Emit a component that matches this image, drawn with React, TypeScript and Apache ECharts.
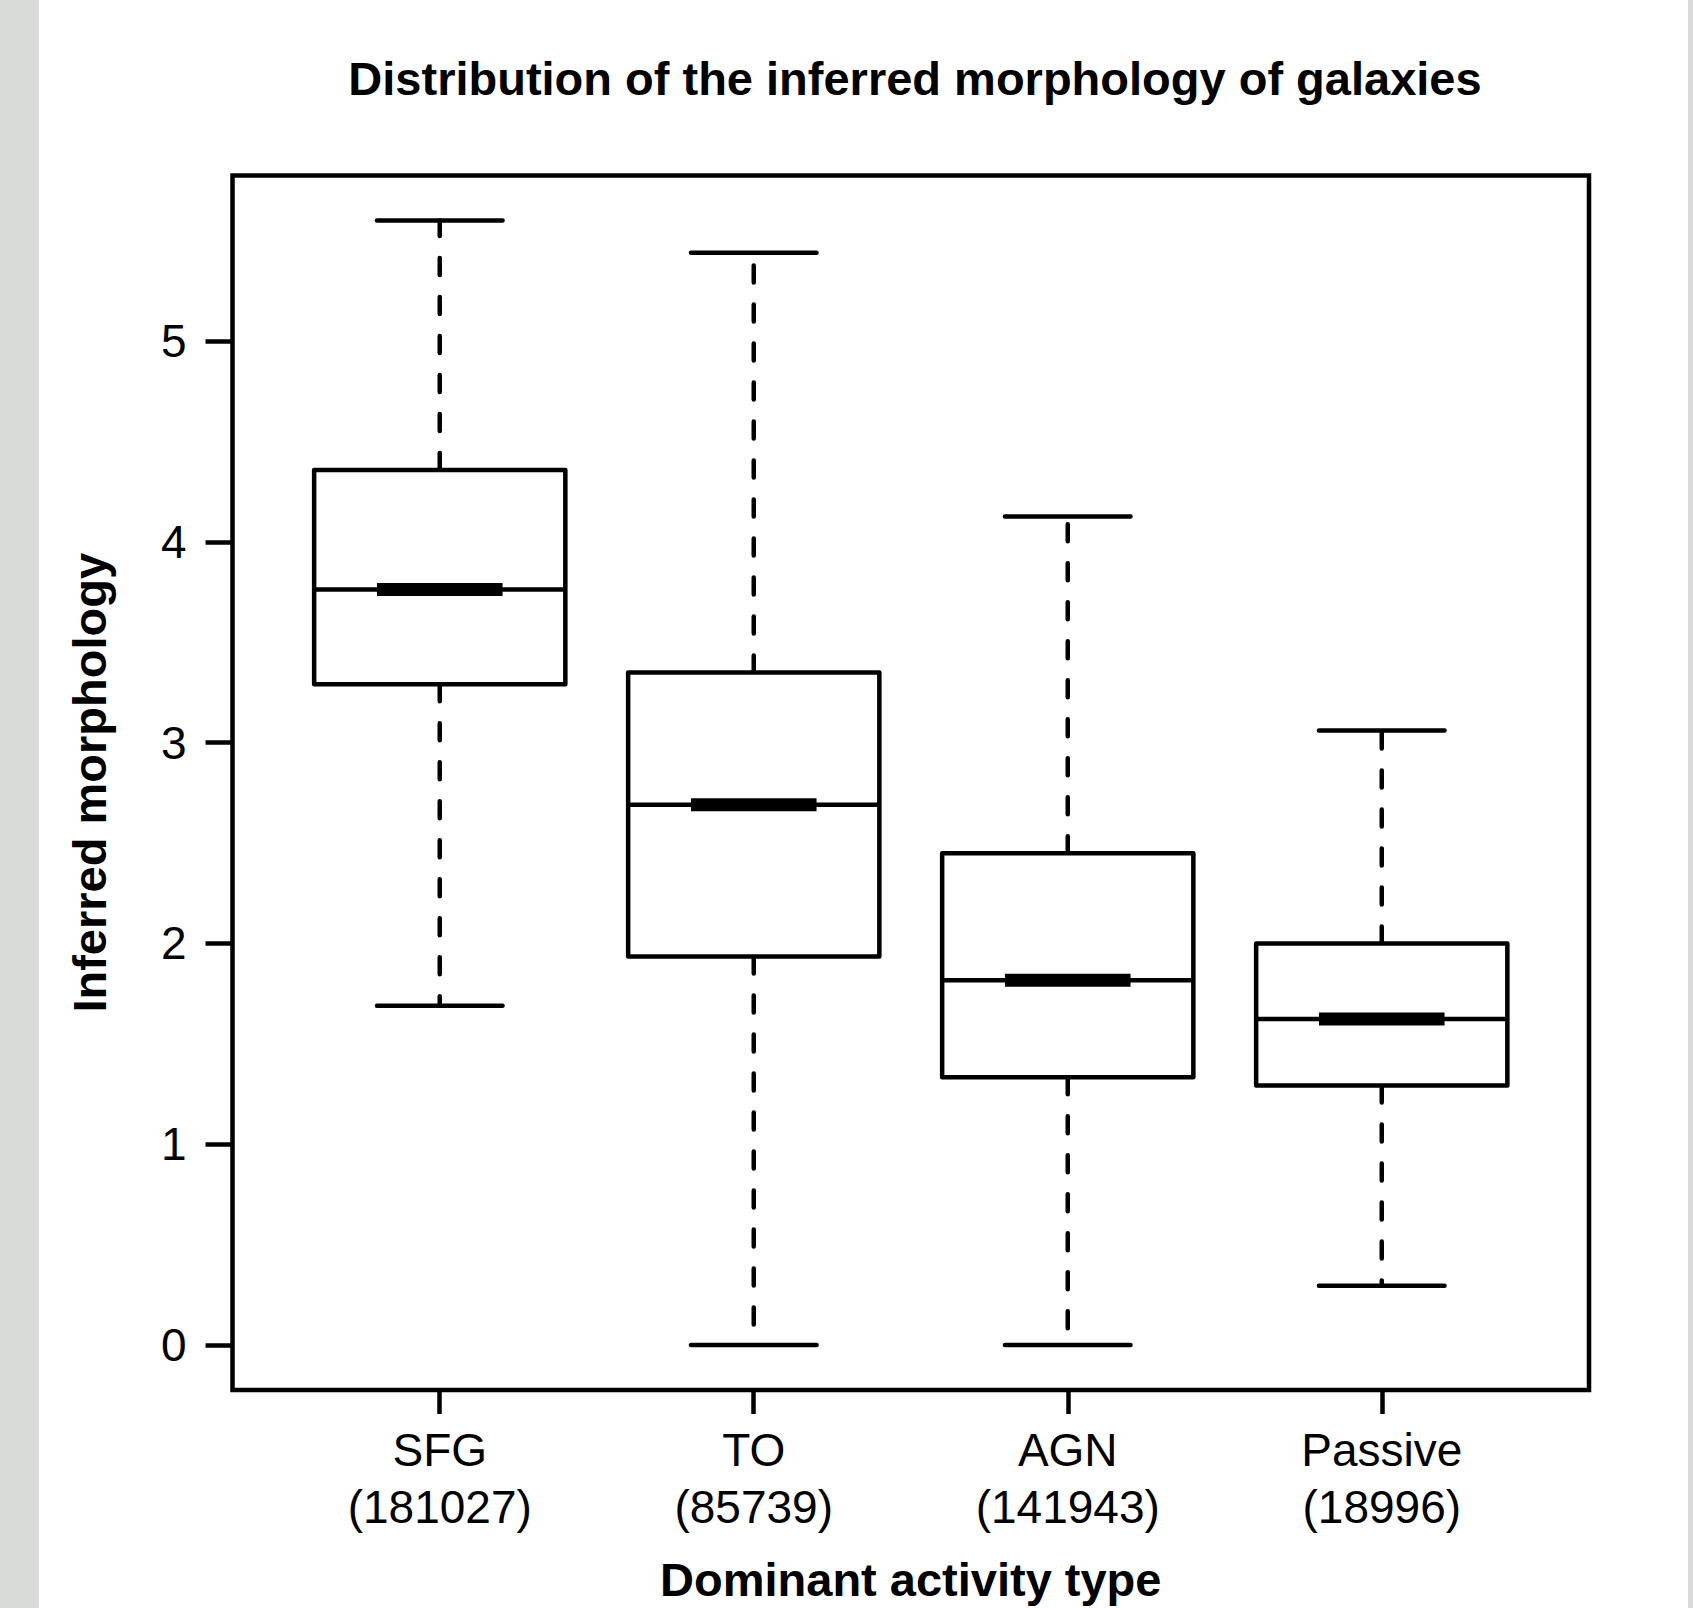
import React, { useEffect, useRef } from "react";
import * as echarts from "echarts";

// ---- Data ----
const categories = ["SFG", "TO", "AGN", "Passive"];
const counts = [181027, 85739, 141943, 18996];
const lowerWhisker = [1.69, 0, 0, 0.295];
const lowerQuartile = [3.29, 1.935, 1.334, 1.292];
const medians = [3.762, 2.69, 1.817, 1.624];
const upperQuartile = [4.357, 3.349, 2.449, 1.999];
const upperWhisker = [5.6, 5.439, 4.126, 3.06];
const yTicks = [0, 1, 2, 3, 4, 5];
const xTicks = [1, 2, 3, 4];

const FONT = "'Liberation Sans', Arial, Helvetica, sans-serif";
const LW = 4.5;

export default function App() {
  const ref = useRef<HTMLDivElement>(null);

  useEffect(() => {
    if (!ref.current) return;
    const chart = echarts.init(ref.current, null, { renderer: "svg" });

    const boxData = categories.map((_, i) => [
      i + 1,
      lowerWhisker[i],
      lowerQuartile[i],
      medians[i],
      upperQuartile[i],
      upperWhisker[i],
    ]);

    const option: any = {
      animation: false,
      backgroundColor: "#ffffff",
      title: {
        text: "Distribution of the inferred morphology of galaxies",
        left: 910,
        textAlign: "center",
        top: 50,
        textStyle: {
          fontFamily: FONT,
          fontWeight: "bold",
          fontSize: 47,
          color: "#000",
        },
      },
      graphic: [
        { type: "rect", left: 0, top: 0, shape: { width: 39, height: 1608 }, style: { fill: "#d9dbd9" }, silent: true },
        { type: "rect", left: 1688, top: 0, shape: { width: 5, height: 1608 }, style: { fill: "#d9dbd9" }, silent: true },
      ],
      grid: {
        left: 232.5,
        right: 104,
        top: 175.5,
        bottom: 214,
        show: true,
        borderColor: "#000",
        borderWidth: LW,
        backgroundColor: "transparent",
      },
      xAxis: {
        type: "value",
        min: 0.34,
        max: 4.66,
        splitLine: { show: false },
        axisLine: { show: false, onZero: false },
        axisTick: {
          show: true,
          customValues: xTicks,
          length: 24,
          lineStyle: { color: "#000", width: LW },
        },
        axisLabel: {
          customValues: xTicks,
          margin: 31,
          fontFamily: FONT,
          fontSize: 46,
          lineHeight: 57,
          color: "#000",
          formatter: (v: number) => {
            const i = Math.round(v) - 1;
            return `${categories[i]}\n(${counts[i]})`;
          },
        },
        name: "Dominant activity type",
        nameLocation: "middle",
        nameGap: 166,
        nameTextStyle: {
          fontFamily: FONT,
          fontWeight: "bold",
          fontSize: 47,
          color: "#000",
        },
      },
      yAxis: {
        type: "value",
        min: -0.224,
        max: 5.824,
        splitLine: { show: false },
        axisLine: { show: false, onZero: false },
        axisTick: {
          show: true,
          customValues: yTicks,
          length: 27,
          lineStyle: { color: "#000", width: LW },
        },
        axisLabel: {
          customValues: yTicks,
          margin: 46,
          fontFamily: FONT,
          fontSize: 46,
          color: "#000",
        },
        name: "Inferred morphology",
        nameLocation: "middle",
        nameRotate: 90,
        nameGap: 120,
        nameTextStyle: {
          fontFamily: FONT,
          fontWeight: "bold",
          fontSize: 47,
          color: "#000",
        },
      },
      series: [
        {
          type: "custom",
          data: boxData,
          encode: { x: 0, y: [1, 2, 3, 4, 5] },
          renderItem: (params: any, api: any) => {
            const x = api.value(0);
            const lo = api.coord([x, api.value(1)]);
            const q1 = api.coord([x, api.value(2)]);
            const med = api.coord([x, api.value(3)]);
            const q3 = api.coord([x, api.value(4)]);
            const hi = api.coord([x, api.value(5)]);
            const halfW = api.size([0.4, 0])[0];
            const cx = lo[0];
            const dash = { stroke: "#000", lineWidth: LW, lineDash: [17, 22], lineCap: "round" };
            const solid = { stroke: "#000", lineWidth: LW, lineCap: "round" };
            return {
              type: "group",
              children: [
                {
                  type: "line",
                  shape: { x1: cx, y1: q3[1], x2: cx, y2: hi[1] },
                  style: dash,
                },
                {
                  type: "line",
                  shape: { x1: cx, y1: q1[1], x2: cx, y2: lo[1] },
                  style: dash,
                },
                {
                  type: "line",
                  shape: { x1: cx - halfW / 2, y1: hi[1], x2: cx + halfW / 2, y2: hi[1] },
                  style: solid,
                },
                {
                  type: "line",
                  shape: { x1: cx - halfW / 2, y1: lo[1], x2: cx + halfW / 2, y2: lo[1] },
                  style: solid,
                },
                {
                  type: "rect",
                  shape: { x: cx - halfW, y: q3[1], width: 2 * halfW, height: q1[1] - q3[1] },
                  style: { fill: "#fff", stroke: "#000", lineWidth: LW, lineJoin: "round" },
                },
                {
                  type: "line",
                  shape: { x1: cx - halfW, y1: med[1], x2: cx + halfW, y2: med[1] },
                  style: { stroke: "#000", lineWidth: LW },
                },
                {
                  type: "line",
                  shape: { x1: cx - halfW / 2, y1: med[1], x2: cx + halfW / 2, y2: med[1] },
                  style: { stroke: "#000", lineWidth: 13 },
                },
              ],
            };
          },
        },
      ],
    };

    chart.setOption(option);
    return () => chart.dispose();
  }, []);

  return (
    <div
      ref={ref}
      style={{ position: "absolute", left: 0, top: 0, width: 1693, height: 1608 }}
    />
  );
}
